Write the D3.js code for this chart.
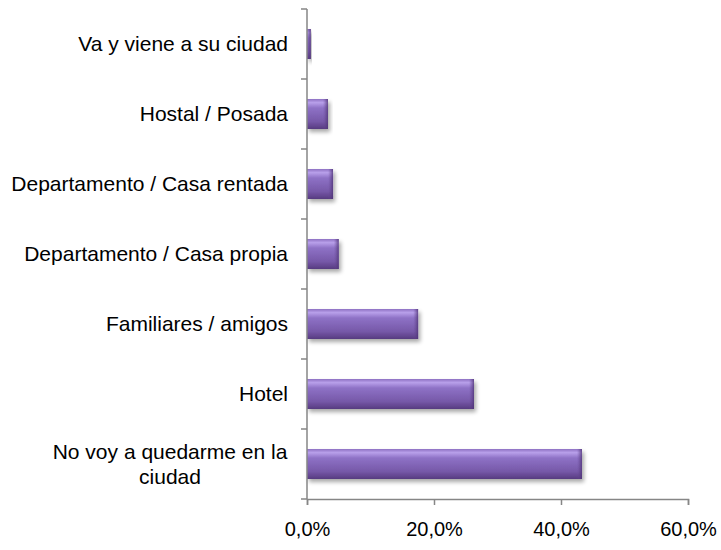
<!DOCTYPE html>
<html>
<head>
<meta charset="utf-8">
<script src="https://cdn.jsdelivr.net/npm/d3@7"></script>
<style>
  body { margin: 0; background: #fff; }
  text { font-family: "Liberation Sans", Arial, sans-serif; fill: #000; }
</style>
</head>
<body>
<div id="chart"></div>
<script>
// categories, top to bottom
var categories = [
    ["Va y viene a su ciudad"],
    ["Hostal / Posada"],
    ["Departamento / Casa rentada"],
    ["Departamento / Casa propia"],
    ["Familiares / amigos"],
    ["Hotel"],
    ["No voy a quedarme en la", "ciudad"]
];
var values = [0.6, 3.3, 4.1, 5.0, 17.5, 26.3, 43.3];
var xTicks = [0, 20, 40, 60];

var width = 721, height = 550;
var margin = { top: 9, right: 33, bottom: 51, left: 307 };

var svg = d3.select("#chart").append("svg")
    .attr("width", width)
    .attr("height", height);

var defs = svg.append("defs");

// bevel look: vertical gradient
var grad = defs.append("linearGradient")
    .attr("id", "barGrad")
    .attr("x1", 0).attr("y1", 0).attr("x2", 0).attr("y2", 1);
grad.append("stop").attr("offset", "0%").attr("stop-color", "#8d70c2");
grad.append("stop").attr("offset", "12%").attr("stop-color", "#b8a0ea");
grad.append("stop").attr("offset", "30%").attr("stop-color", "#8e72c6");
grad.append("stop").attr("offset", "75%").attr("stop-color", "#7658a8");
grad.append("stop").attr("offset", "100%").attr("stop-color", "#573a80");

var endGrad = defs.append("linearGradient")
    .attr("id", "endGrad")
    .attr("x1", 0).attr("y1", 0).attr("x2", 1).attr("y2", 0);
endGrad.append("stop").attr("offset", "0%").attr("stop-color", "#6a4c98").attr("stop-opacity", 0);
endGrad.append("stop").attr("offset", "100%").attr("stop-color", "#4e3375").attr("stop-opacity", 0.8);

var shadow = defs.append("filter").attr("id", "shadow")
    .attr("x", "-10%").attr("y", "-20%").attr("width", "130%").attr("height", "160%");
shadow.append("feGaussianBlur").attr("in", "SourceAlpha").attr("stdDeviation", 2);
shadow.append("feOffset").attr("dx", 2).attr("dy", 3).attr("result", "off");
shadow.append("feComponentTransfer").append("feFuncA").attr("type", "linear").attr("slope", 0.35);
var merge = shadow.append("feMerge");
merge.append("feMergeNode");
merge.append("feMergeNode").attr("in", "SourceGraphic");

var innerW = width - margin.left - margin.right;
var innerH = height - margin.top - margin.bottom;

var x = d3.scaleLinear().domain([0, 60]).range([0, 381]);
var y = d3.scaleBand()
    .domain(d3.range(categories.length))
    .range([0, innerH])
    .paddingInner(0.5714)
    .paddingOuter(0.2857);

var g = svg.append("g").attr("transform", "translate(" + margin.left + "," + margin.top + ")");

// bars
var bars = g.selectAll(".bar").data(values).enter().append("g")
    .attr("class", "bar")
    .attr("filter", "url(#shadow)");

bars.append("rect")
    .attr("x", 0)
    .attr("y", function (d, i) { return y(i); })
    .attr("width", function (d) { return x(d); })
    .attr("height", y.bandwidth())
    .attr("fill", "url(#barGrad)");

bars.append("rect")
    .attr("x", function (d) { return Math.max(0, x(d) - 5); })
    .attr("y", function (d, i) { return y(i); })
    .attr("width", function (d) { return Math.min(5, x(d)); })
    .attr("height", y.bandwidth())
    .attr("fill", "url(#endGrad)");

// y axis line and ticks at band boundaries
var axisColor = "#868686";
var step = innerH / categories.length;
g.append("line")
    .attr("x1", 0).attr("x2", 0)
    .attr("y1", 0).attr("y2", innerH)
    .attr("stroke", axisColor).attr("stroke-width", 1.5);
g.selectAll(".ytick").data(d3.range(categories.length + 1)).enter().append("line")
    .attr("x1", -6).attr("x2", 0)
    .attr("y1", function (d) { return d * step; })
    .attr("y2", function (d) { return d * step; })
    .attr("stroke", axisColor).attr("stroke-width", 1.5);

// x axis
var xAxis = g.append("g")
    .attr("transform", "translate(0," + innerH + ")")
    .call(d3.axisBottom(x)
        .tickValues(xTicks)
        .tickSize(6)
        .tickPadding(17)
        .tickFormat(function (d) { return d.toFixed(1).replace(".", ",") + "%"; }));
xAxis.select(".domain").attr("stroke", axisColor).attr("stroke-width", 1.5);
xAxis.selectAll(".tick line").attr("stroke", axisColor).attr("stroke-width", 1.5);
xAxis.selectAll(".tick text")
    .style("font-size", "20px")
    .style("font-family", "Liberation Sans, Arial, sans-serif")
    .attr("fill", "#000");

// category labels (multi-line ones centered on each other)
var labels = g.selectAll(".label").data(categories).enter().append("g")
    .attr("class", "label");

labels.each(function (lines, i) {
    var cy = y(i) + y.bandwidth() / 2;
    var lh = 25;
    var node = d3.select(this);
    if (lines.length == 1) {
        node.append("text")
            .attr("x", -19)
            .attr("y", cy)
            .attr("dy", "0.35em")
            .attr("text-anchor", "end")
            .style("font-size", "21px")
            .text(lines[0]);
    } else {
        var t = node.append("text")
            .attr("text-anchor", "middle")
            .style("font-size", "21px");
        var w = 236;
        lines.forEach(function (l, k) {
            t.append("tspan")
                .attr("x", -19 - w / 2)
                .attr("y", cy + (k - (lines.length - 1) / 2) * lh)
                .attr("dy", "0.35em")
                .text(l);
        });
    }
});
</script>
</body>
</html>
